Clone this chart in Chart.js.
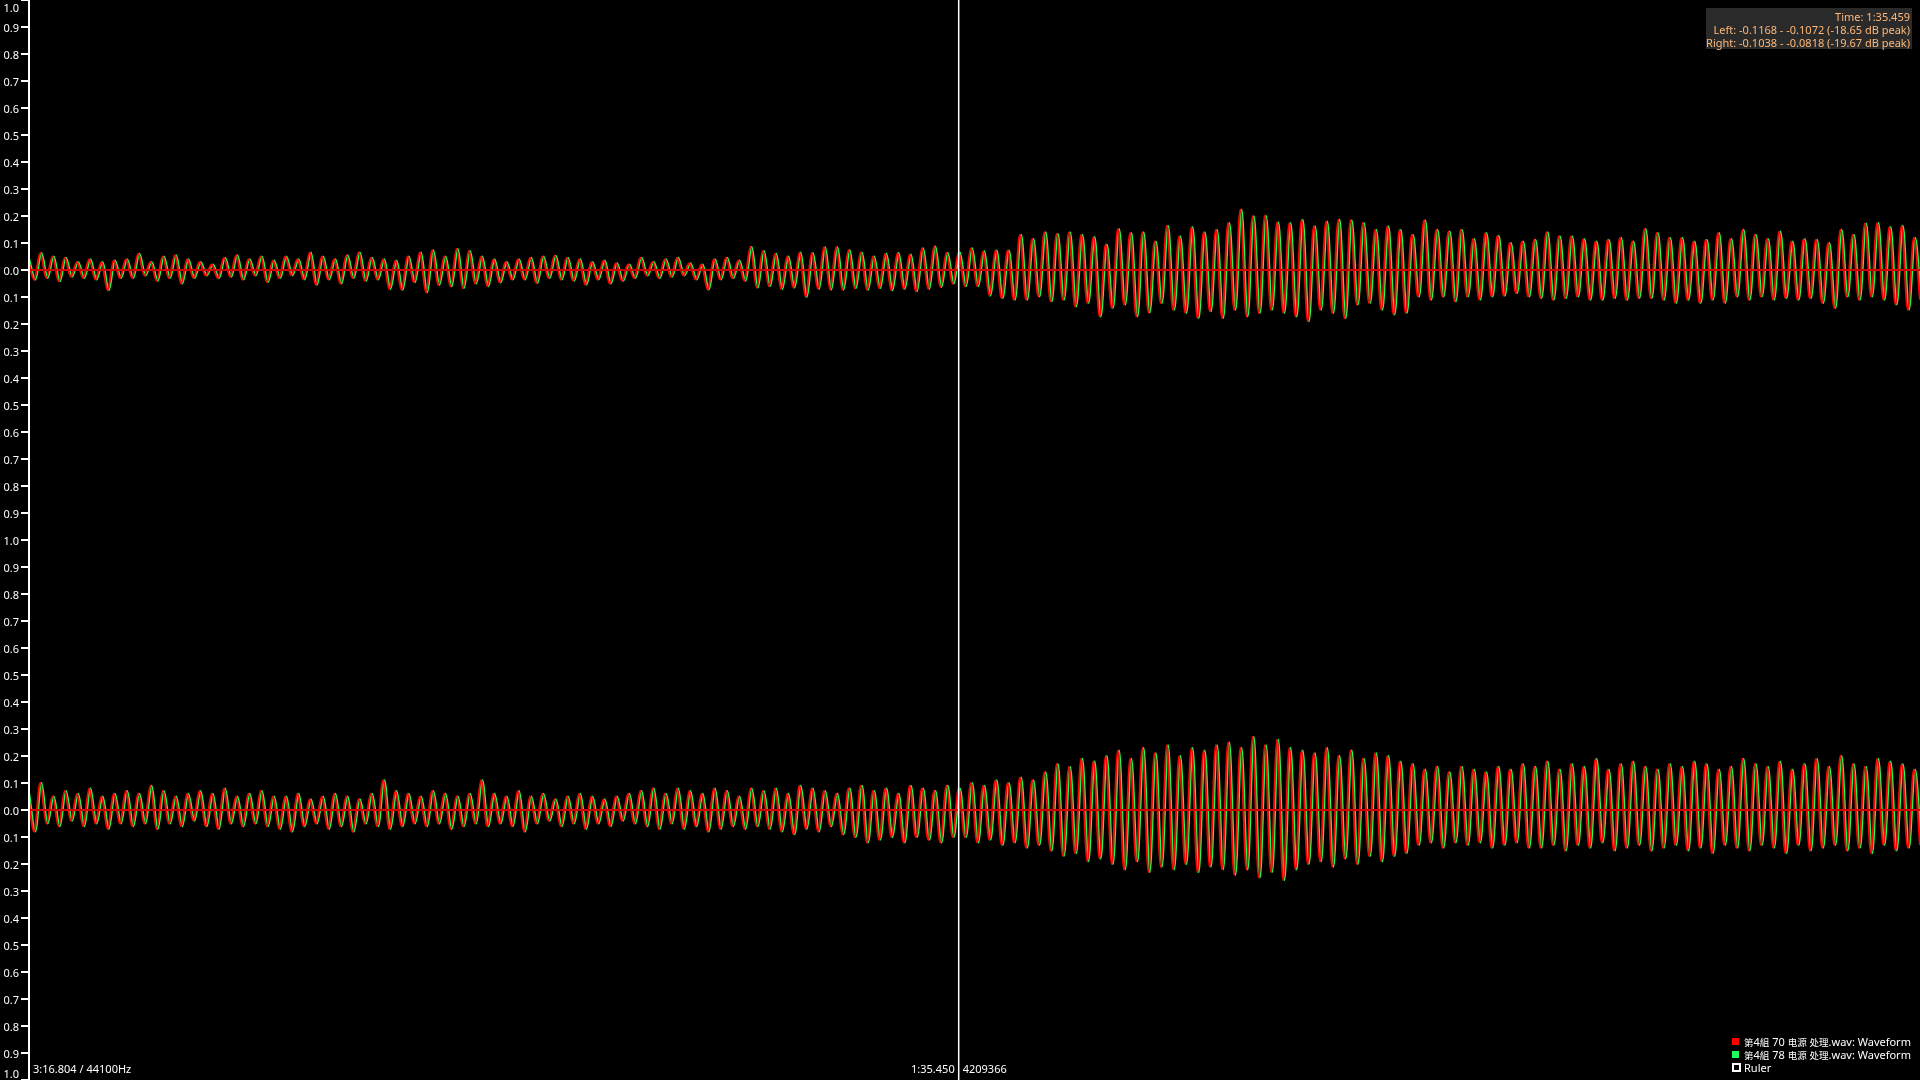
<!DOCTYPE html>
<html><head><meta charset="utf-8">
<script src="https://cdn.jsdelivr.net/npm/chart.js@4"></script>
<style>
html,body{margin:0;padding:0;background:#000;overflow:hidden;}
#wrap{position:relative;width:1920px;height:1080px;background:#000;}
.c{position:absolute;left:0;width:1920px;height:540px;}
.t{position:absolute;font:11px "Noto Sans","Open Sans",sans-serif;color:#fff;white-space:nowrap;line-height:13px;}
#info{position:absolute;left:1706px;top:8px;width:206px;height:41px;background:#2a2a2a;box-sizing:border-box;padding-top:2px;}
#info div{text-align:right;padding-right:2px;font:11px "Noto Sans","Open Sans",sans-serif;color:#ffb878;line-height:13px;}
#legend{position:absolute;left:1731px;top:1035px;}
#legend div{position:relative;height:13px;font:11px "Noto Sans",sans-serif;color:#fff;line-height:13px;padding-left:13px;white-space:nowrap;}
#legend span{position:absolute;left:1px;top:3px;width:7px;height:7px;}
#legend i{font-style:normal;font-size:9.5px;font-family:"Noto Sans CJK SC",sans-serif;}
</style></head>
<body><div id="wrap">
<div class="c" style="top:0"><canvas id="cTop"></canvas></div>
<div class="c" style="top:540px"><canvas id="cBot"></canvas></div>
<div id="axisLabels"></div>
<div id="info"><div>Time: 1:35.459</div><div>Left: -0.1168 - -0.1072 (-18.65 dB peak)</div><div>Right: -0.1038 - -0.0818 (-19.67 dB peak)</div></div>
<div class="t" style="left:33px;top:1062px">3:16.804 / 44100Hz</div>
<div class="t" id="curL" style="top:1062px;text-align:right">1:35.450</div>
<div class="t" id="curR" style="top:1062px">4209366</div>
<div id="legend">
<div><span style="background:#ff0000"></span><i>第</i>4<i>組</i> 70 <i>电源</i> <i>处理</i>.wav: Waveform</div>
<div><span style="background:#1cff5c"></span><i>第</i>4<i>組</i> 78 <i>电源</i> <i>处理</i>.wav: Waveform</div>
<div><span style="border:2px solid #fff;width:5px;height:5px;top:2px"></span>Ruler</div>
</div>
</div>
<script>
// ---- Left channel (top): peak / trough per cycle, before cursor and after cursor
const leftPeaksBefore = [0.04,0.063,0.05,0.045,0.03,0.04, 0.03,0.035, 0.04,0.06,0.03,0.05,0.055,0.04,0.03,0.02,
 0.045,0.055,0.04,0.05,0.035,0.05,0.04,0.065, 0.05,0.04,0.055,0.065,0.045, 0.04,0.035,0.05,0.065,0.073,0.05,
 0.078,0.07,0.05,0.04,0.03, 0.04,0.045,0.05,0.053,0.045, 0.04,0.03,0.035,0.025,0.02, 0.045,0.03,0.04,0.045,0.025,0.02,
 0.04,0.045,0.035, 0.085, 0.07,0.06,0.05,0.065, 0.063,0.084,0.084,0.073,0.065,0.05,0.06,0.063,0.057,0.081,0.087,0.063];
const leftTroughsBefore = [-0.036,-0.03,-0.042,-0.025,-0.03,-0.035, -0.075,-0.03, -0.03,-0.02,-0.04,-0.03,-0.05,-0.03,-0.02,-0.03,
 -0.025,-0.035,-0.02,-0.045,-0.03,-0.02,-0.035,-0.055, -0.035,-0.05,-0.03,-0.04,-0.035, -0.07,-0.073,-0.045,-0.083,-0.055,-0.06,
 -0.067,-0.05,-0.06,-0.046,-0.035, -0.035,-0.048,-0.03,-0.035,-0.04, -0.054,-0.035,-0.05,-0.04,-0.03, -0.02,-0.03,-0.025,-0.02,-0.035,-0.072,
 -0.035,-0.03,-0.04, -0.065, -0.06,-0.07,-0.065,-0.1, -0.07,-0.073,-0.073,-0.067,-0.073,-0.067,-0.075,-0.07,-0.079,-0.07,-0.063,-0.05];
const leftPeaksAfter = [0.065,0.081,0.069,0.072,0.072,0.131,0.115,0.140,0.133,0.140,
 0.131,0.122,0.094,0.152,0.137,0.140,0.106,0.164,0.125,0.159,
 0.140,0.149,0.174,0.223,0.199,0.201,0.177,0.174,0.186,0.162,
 0.180,0.186,0.184,0.174,0.149,0.162,0.149,0.131,0.184,0.149,
 0.143,0.149,0.115,0.137,0.127,0.100,0.106,0.112,0.140,0.125,
 0.125,0.115,0.106,0.112,0.119,0.106,0.152,0.137,0.119,0.119,
 0.106,0.112,0.137,0.115,0.149,0.131,0.115,0.143,0.106,0.115,
 0.112,0.100,0.149,0.131,0.172,0.174,0.159,0.164,0.119];
const leftTroughsAfter = [-0.060,-0.060,-0.095,-0.104,-0.110,-0.110,-0.098,-0.116,-0.110,-0.135,
 -0.122,-0.172,-0.141,-0.128,-0.172,-0.157,-0.122,-0.147,-0.159,-0.178,
 -0.153,-0.178,-0.147,-0.172,-0.159,-0.147,-0.159,-0.172,-0.190,-0.147,
 -0.159,-0.178,-0.128,-0.122,-0.147,-0.165,-0.159,-0.098,-0.110,-0.098,
 -0.116,-0.098,-0.110,-0.098,-0.095,-0.085,-0.098,-0.104,-0.110,-0.104,
 -0.098,-0.110,-0.110,-0.104,-0.110,-0.104,-0.104,-0.110,-0.122,-0.110,
 -0.122,-0.110,-0.122,-0.098,-0.110,-0.098,-0.110,-0.104,-0.110,-0.104,
 -0.122,-0.141,-0.098,-0.110,-0.098,-0.110,-0.128,-0.147,-0.110];
// ---- Right channel (bottom)
const rightPeaksBefore = [0.06,0.10,0.05,0.07,0.06,0.08,0.05,0.06,
 0.07,0.06,0.09,0.07,0.05,0.06,0.07,0.06,0.08,0.05,0.06,0.07,0.05,
 0.05,0.06,0.04,0.05,0.06,0.05,0.04,0.06, 0.11,0.07, 0.06,0.05,0.07,0.06,0.05,0.06, 0.11,
 0.06,0.05,0.07,0.05,0.06,0.04,0.05,0.06,0.05,0.04,0.05,0.06,
 0.07,0.08,0.06,0.08,0.07,0.06,0.08,0.07,0.05,0.08,
 0.07,0.08,0.06,0.09,0.08,0.07,0.06,0.08,0.09,0.07,0.08,0.06,0.09,0.08,0.07,0.09];
const rightTroughsBefore = [-0.08,-0.05,-0.06,-0.04,-0.06,-0.05,-0.07,-0.05,
 -0.06,-0.05,-0.07,-0.05,-0.06,-0.04,-0.06,-0.07,-0.05,-0.06,-0.05,-0.06,-0.07,
 -0.08,-0.06,-0.05,-0.07,-0.06,-0.08,-0.05,-0.06, -0.07,-0.06, -0.05,-0.06,-0.05,-0.07,-0.06,-0.05, -0.06,
 -0.05,-0.06,-0.08,-0.05,-0.04,-0.06,-0.05,-0.07,-0.05,-0.06,-0.04,-0.05,
 -0.06,-0.07,-0.05,-0.07,-0.06,-0.08,-0.07,-0.06,-0.07,-0.06,
 -0.07,-0.08,-0.09,-0.07,-0.08,-0.06,-0.09,-0.1,-0.12,-0.11,-0.1,-0.12,-0.1,-0.11,-0.12,-0.1];
const rightPeaksAfter = [0.08,0.1,0.09,0.11,0.1,0.12,0.11, 0.14,0.17,0.16,0.19,0.18,
 0.2,0.22,0.19,0.23,0.21,0.24,0.2,0.23,0.22,0.24, 0.25,0.23,0.27,0.24,0.26,0.23,
 0.22,0.21,0.23,0.2,0.22,0.19,0.21,0.2,0.18, 0.17,0.15,0.16,0.14,0.16,0.15,0.14,0.16,0.15,0.17,
 0.16,0.18,0.15,0.17,0.16,0.19,0.15,0.17,0.18,0.16,0.15,0.17,0.16,0.18,0.17,0.15,
 0.16,0.19,0.17,0.16,0.18,0.15,0.17,0.19,0.16,0.2,0.17,0.16,0.19,0.18,0.17,0.15];
const rightTroughsAfter = [-0.1,-0.12,-0.11,-0.13,-0.12,-0.14,-0.13, -0.15,-0.17,-0.16,-0.19,-0.18,
 -0.2,-0.22,-0.19,-0.23,-0.21,-0.22,-0.2,-0.23,-0.21,-0.22, -0.24,-0.22,-0.25,-0.23,-0.26,-0.22,
 -0.2,-0.19,-0.21,-0.18,-0.2,-0.17,-0.19,-0.17,-0.16, -0.13,-0.12,-0.14,-0.12,-0.13,-0.12,-0.14,-0.13,-0.12,-0.14,
 -0.14,-0.13,-0.15,-0.13,-0.14,-0.12,-0.15,-0.14,-0.13,-0.15,-0.14,-0.13,-0.15,-0.14,-0.16,-0.13,
 -0.14,-0.15,-0.13,-0.14,-0.16,-0.13,-0.15,-0.14,-0.13,-0.15,-0.14,-0.16,-0.13,-0.15,-0.14,-0.13];
const yTickValues = [-1,-0.9,-0.8,-0.7,-0.6,-0.5,-0.4,-0.3,-0.2,-0.1,0,0.1,0.2,0.3,0.4,0.5,0.6,0.7,0.8,0.9,1];
const secondFileLag = 0.2;   // the green file trails the red one slightly (in sample steps)

function interleave(p, t){ const out=[]; for(let i=0;i<p.length;i++){ out.push(p[i]); out.push(t[i]); } return out; }
const leftSamples = interleave(leftPeaksBefore.concat(leftPeaksAfter), leftTroughsBefore.concat(leftTroughsAfter));
const rightSamples = interleave(rightPeaksBefore.concat(rightPeaksAfter), rightTroughsBefore.concat(rightTroughsAfter));
const cursorIndex = leftPeaksBefore.length*2;
const lastIndex = leftSamples.length-1;

const wavePlugin = {
  id:'wave',
  afterDatasetsDraw(chart){
    const {ctx, chartArea, scales:{x,y}} = chart;
    ctx.save();
    ctx.fillStyle = '#d00000';
    const y0 = Math.round(y.getPixelForValue(0));
    ctx.fillRect(chartArea.left, y0-1, chartArea.right-chartArea.left, 2);
    // cursor
    const cx = x.getPixelForValue(cursorIndex);
    ctx.fillStyle = '#ffffff';
    ctx.fillRect(cx-0.75, chartArea.top, 1.5, chartArea.bottom-chartArea.top);
    // axis + ticks
    ctx.fillRect(chartArea.left, chartArea.top, 2, chartArea.bottom-chartArea.top);
    yTickValues.forEach(v=>{ const py=Math.round(y.getPixelForValue(v)); ctx.fillRect(chartArea.left-7, py-1, 7, 2); });
    ctx.restore();
  }
};

function makeChart(id, samples){
  const red = samples.map((v,i)=>({x:i, y:v}));
  const green = samples.map((v,i)=>({x:i+secondFileLag, y:v}));
  return new Chart(document.getElementById(id), {
    type:'line',
    data:{datasets:[
      {label:'第4組 70 电源 处理.wav: Waveform', data:red, borderColor:'#ff0000', borderWidth:2, pointRadius:0, cubicInterpolationMode:'monotone'},
      {label:'第4組 78 电源 处理.wav: Waveform', data:green, borderColor:'#14ff58', borderWidth:2, pointRadius:0, cubicInterpolationMode:'monotone'}
    ]},
    options:{
      responsive:true, maintainAspectRatio:false, animation:false,
      layout:{padding:{left:28,right:0,top:0,bottom:0}},
      plugins:{legend:{display:false}, tooltip:{enabled:false}},
      scales:{
        x:{type:'linear', min:0, max:lastIndex, display:false},
        y:{type:'linear', min:-1, max:1, display:false}
      }
    },
    plugins:[wavePlugin]
  });
}
const chTop = makeChart('cTop', leftSamples);
const chBot = makeChart('cBot', rightSamples);

// axis labels as real text
const lab = document.getElementById('axisLabels');
[[chTop,0],[chBot,540]].forEach(([ch,off],ci)=>{
  const y = ch.scales.y;
  yTickValues.forEach(v=>{
    if(ci===1 && v===1) return;
    let py = y.getPixelForValue(v)+off;
    py = Math.max(7, Math.min(1073, py));
    const d = document.createElement('div');
    d.className='t';
    d.style.left='0px'; d.style.width='19px'; d.style.textAlign='right';
    d.style.top=(py-6.5)+'px';
    d.textContent = Math.abs(v).toFixed(1);
    lab.appendChild(d);
  });
});
const cx = chTop.scales.x.getPixelForValue(cursorIndex);
const cl = document.getElementById('curL'); cl.style.left=(cx-84)+'px'; cl.style.width='80px';
document.getElementById('curR').style.left=(cx+4)+'px';
</script>
</body></html>
